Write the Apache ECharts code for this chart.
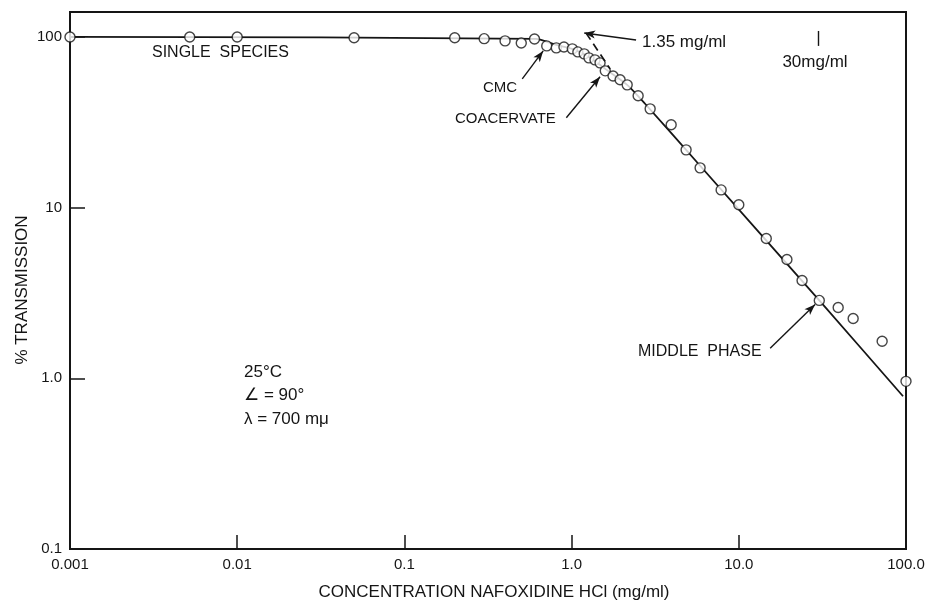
<!DOCTYPE html>
<html><head><meta charset="utf-8">
<script src="https://cdn.jsdelivr.net/npm/echarts@6/dist/echarts.min.js"></script>
<style>html,body{margin:0;padding:0;background:#fff}#c{width:930px;height:603px}</style>
</head><body><div id="c"></div>
<script>
// measured points
const concentration = [0.001,0.0052,0.01,0.05,0.2,0.3,0.4,0.5,0.6,0.71,0.81,0.9,1.01,1.09,1.19,1.27,1.38,1.48,1.59,1.77,1.95,2.15,2.5,2.95,3.94,4.84,5.87,7.84,10.0,14.6,19.4,23.9,30.3,39.3,48.3,72.0,100];
const transmission = [100,100,100,99,99,97.7,94.8,92.2,97.3,88.6,86.3,87.4,85.1,81.7,79.6,75.4,73.4,70.5,63.3,59.1,56.1,52.4,45.2,37.9,30.6,21.8,17.1,12.7,10.4,6.59,4.97,3.74,2.86,2.60,2.24,1.65,0.96];
// drawn curve nodes
const curveConc = [0.001,0.61,0.81,1.01,1.27,1.59,2.15,2.75,5.87,30.3,96];
const curveTrans = [100,97.3,89.8,85.1,76.4,65.0,52.4,40.6,17.6,2.86,0.785];
// dashed extrapolation
const dashConc = [1.22,1.70];
const dashTrans = [105.5,65.0];
// annotation arrows: [fromConc, fromTrans, toConc, toTrans]
const arrows = [
  [2.43,96.0,1.19,105.5],
  [0.507,56.8,0.676,82.8],
  [0.93,33.6,1.48,58.4],
  [15.4,1.50,28.6,2.71]
];
const markerConc = 30;
const markerTrans = [88.6,108.4];
const xTickLabels = {'0.001':'0.001','0.01':'0.01','0.1':'0.1','1':'1.0','10':'10.0','100':'100.0'};
const yTickLabels = {'0.1':'0.1','1':'1.0','10':'10','100':'100'};

const INK = '#151515';
const FONT = '"Liberation Sans", "DejaVu Sans", sans-serif';
const chart = echarts.init(document.getElementById('c'), null, {renderer:'canvas'});

function txt(text, x, y, size, align){
  return {type:'text', x:x, y:y, silent:true,
    style:{text:text, fill:INK, font: size+'px '+FONT, align:align||'left', verticalAlign:'middle'}};
}

const scatterData = concentration.map((c,i)=>[c, transmission[i]]);
const curveData = curveConc.map((c,i)=>[c, curveTrans[i]]);
const arrowLines = arrows.map(a=>[
  {coord:[a[0],a[1]], symbol:'none'},
  {coord:[a[2],a[3]], symbol:'arrow', symbolSize:[6,11]}
]);
const dashStyle = {color:INK, width:1.7, type:[8,5]};
const dashLine = [[{coord:[dashConc[0],dashTrans[0]], symbol:'none', lineStyle:dashStyle},{coord:[dashConc[1],dashTrans[1]], symbol:'none', lineStyle:dashStyle}]];
const markerLine = [[{coord:[markerConc,markerTrans[0]], symbol:'none'},{coord:[markerConc,markerTrans[1]], symbol:'none'}]];

chart.setOption({
  animation:false,
  backgroundColor:'#fff',
  grid:{left:70, right:24, top:12, bottom:54, show:true, borderColor:INK, borderWidth:2, backgroundColor:'transparent'},
  xAxis:{type:'log', logBase:10, min:0.001, max:100,
    axisLine:{show:true, lineStyle:{color:INK, width:2}},
    axisTick:{show:true, inside:true, length:14, lineStyle:{color:INK, width:1.5}},
    axisLabel:{color:INK, fontFamily:FONT, fontSize:15, margin:8,
      formatter:v=>{const k=String(+v.toPrecision(3)); return xTickLabels[k]||'';}},
    splitLine:{show:false}},
  yAxis:{type:'log', logBase:10, min:0.1, max:140,
    axisLine:{show:true, lineStyle:{color:INK, width:2}},
    axisTick:{show:true, inside:true, length:15, lineStyle:{color:INK, width:1.5}},
    axisLabel:{color:INK, fontFamily:FONT, fontSize:15, margin:8,
      formatter:v=>{const k=String(+v.toPrecision(3)); return yTickLabels[k]||'';}},
    splitLine:{show:false}},
  series:[
    {type:'line', data:curveData, smooth:0.25, showSymbol:false, symbol:'none',
      lineStyle:{color:INK, width:1.8}, z:2, silent:true,
      markLine:{silent:true, symbol:['none','none'], label:{show:false},
        lineStyle:{color:INK, width:1.4, type:'solid'},
        data: arrowLines.concat(dashLine).concat(markerLine)}},
    {type:'scatter', data:scatterData, symbol:'circle', symbolSize:10,
      itemStyle:{color:'#fff', borderColor:INK, borderWidth:1.4}, z:3, silent:true}
  ],
  graphic:[
    txt('SINGLE  SPECIES',152,53,16),
    txt('CMC',483,88,15),
    txt('COACERVATE',455,119,15),
    txt('1.35 mg/ml',642,42,17),
    txt('30mg/ml',815,62,17,'center'),
    txt('MIDDLE  PHASE',638,352,16),
    txt('25°C',244,372,17),
    txt('∠ = 90°',244,395,17),
    txt('λ = 700 mμ',244,419,17),
    {type:'text', x:22, y:290, rotation:Math.PI/2, silent:true,
      style:{text:'% TRANSMISSION', fill:INK, font:'17px '+FONT, align:'center', verticalAlign:'middle'}},
    txt('CONCENTRATION NAFOXIDINE HCl (mg/ml)',494,592,17,'center')
  ]
});
</script></body></html>
